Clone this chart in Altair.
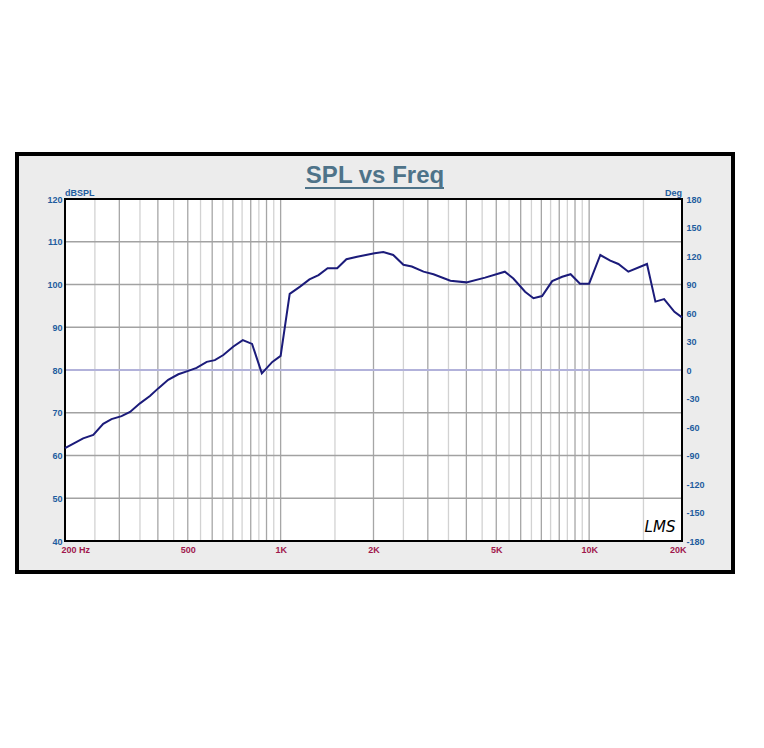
import altair as alt
import pandas as pd

# ---- data ----
freq = [200, 213, 229, 247, 266, 283, 305, 325, 350, 377, 401, 432, 466, 502, 534,
        576, 612, 652, 703, 754, 808, 869, 940, 1000, 1070, 1156, 1240, 1327, 1420,
        1525, 1634, 1770, 2016, 2152, 2317, 2500, 2662, 2905, 3130, 3550, 4000, 4600,
        5330, 5680, 6200, 6600, 7040, 7590, 8180, 8710, 9340, 10000, 10870, 11710,
        12440, 13400, 15400, 16400, 17500, 18900, 20000]
spl = [61.7, 62.8, 64.0, 64.8, 67.4, 68.5, 69.2, 70.2, 72.2, 73.9, 75.7, 77.7, 79.0,
       79.8, 80.5, 81.9, 82.3, 83.5, 85.5, 87.0, 86.1, 79.2, 81.9, 83.3, 97.8, 99.5,
       101.2, 102.2, 103.8, 103.8, 105.9, 106.5, 107.3, 107.6, 106.9, 104.6, 104.2,
       103.0, 102.4, 100.9, 100.5, 101.6, 103.0, 101.4, 98.3, 96.8, 97.3, 100.8, 101.8,
       102.4, 100.2, 100.2, 106.9, 105.6, 104.8, 103.0, 104.8, 96.0, 96.6, 93.6, 92.3]

major_vgrid = [300, 400, 500, 600, 700, 800, 900, 1000, 2000, 3000, 4000, 5000,
               6000, 7000, 8000, 9000, 10000]
minor_vgrid = [250, 350, 450, 550, 650, 750, 850, 950, 1500, 2500, 3500, 4500,
               5500, 6500, 7500, 8500, 9500, 15000]
hgrid = [50, 60, 70, 90, 100, 110]
ref_line = [80]
x_ticks = [200, 500, 1000, 2000, 5000, 10000, 20000]
y_ticks = [40, 50, 60, 70, 80, 90, 100, 110, 120]
deg_ticks = [-180, -150, -120, -90, -60, -30, 0, 30, 60, 90, 120, 150, 180]

W, H = 617, 342
FONT = "Liberation Sans"
BLUE = "#1f5c9e"
RED = "#a0174c"
TITLE_C = "#4e7389"

xs = alt.Scale(type="log", domain=[200, 20000], nice=False)


def ys():
    return alt.Scale(domain=[40, 120], nice=False, zero=False)


def xaxis():
    return alt.Axis(
        values=x_ticks, title=None, domain=False, ticks=False, grid=False,
        labelExpr="datum.value == 200 ? '200  Hz' : (datum.value >= 1000 ? (datum.value/1000) + 'K' : datum.value + '')",
        labelFlush=True, labelFlushOffset=4, labelFont=FONT, labelFontSize=9,
        labelFontWeight="bold", labelColor=RED, labelPadding=4, zindex=2)


one = pd.DataFrame({"t": [""]})

frame = alt.Chart(one).mark_rect(fill="#ececec", stroke="black", strokeWidth=4).encode(
    x=alt.value(-48), x2=alt.value(668), y=alt.value(-45), y2=alt.value(373))
plotbg = alt.Chart(one).mark_rect(fill="white").encode(
    x=alt.value(0), x2=alt.value(W), y=alt.value(0), y2=alt.value(H))
border = alt.Chart(one).mark_rect(fillOpacity=0, stroke="black", strokeWidth=2).encode(
    x=alt.value(0), x2=alt.value(W), y=alt.value(0), y2=alt.value(H))

minor_v = alt.Chart(pd.DataFrame({"f": minor_vgrid})).mark_rule(
    color="#d2d2d2", strokeWidth=1.3).encode(x=alt.X("f:Q", scale=xs, axis=xaxis()))
major_v = alt.Chart(pd.DataFrame({"f": major_vgrid})).mark_rule(
    color="#a6a6a6", strokeWidth=1.3).encode(x=alt.X("f:Q", scale=xs, axis=xaxis()))
hg = alt.Chart(pd.DataFrame({"v": hgrid})).mark_rule(
    color="#a2a2a2", strokeWidth=1.3).encode(y=alt.Y("v:Q", scale=ys(), axis=None))
ref = alt.Chart(pd.DataFrame({"v": ref_line})).mark_rule(
    color="#b2b2da", strokeWidth=2).encode(y=alt.Y("v:Q", scale=ys(), axis=None))

curve = alt.Chart(pd.DataFrame({"f": freq, "db": spl})).mark_line(
    color="#1b1b7a", strokeWidth=2, strokeJoin="miter").encode(
    x=alt.X("f:Q", scale=xs, axis=xaxis()),
    y=alt.Y("db:Q", scale=ys(), axis=alt.Axis(
        orient="left", values=y_ticks, title=None, domain=False, ticks=False, grid=False,
        labelFont=FONT, labelFontSize=9, labelFontWeight="bold", labelColor=BLUE,
        labelPadding=3, zindex=2)),
)


def txt(s, x, y, **kw):
    return alt.Chart(pd.DataFrame({"t": [s]})).mark_text(**kw).encode(
        x=alt.value(x), y=alt.value(y), text="t:N")


title = txt("SPL vs Freq", 310, -16, font=FONT, fontSize=24, fontWeight="bold",
            color=TITLE_C, align="center", baseline="alphabetic")
underline = alt.Chart(one).mark_rule(color=TITLE_C, strokeWidth=2).encode(
    x=alt.value(240), x2=alt.value(379), y=alt.value(-11))
dbspl = txt("dBSPL", 0, -3, font=FONT, fontSize=9, fontWeight="bold", color=BLUE,
            align="left", baseline="alphabetic")
deg = txt("Deg", W, -3, font=FONT, fontSize=9, fontWeight="bold", color=BLUE,
          align="right", baseline="alphabetic")
lms = txt("LMS", 595, 328, font="DejaVu Sans", fontSize=15, fontStyle="italic",
          color="black", align="center", baseline="middle")

deg_layer = alt.Chart(pd.DataFrame({"d": deg_ticks})).mark_point(opacity=0).encode(
    x=alt.value(0),
    y=alt.Y("d:Q", scale=alt.Scale(domain=[-180, 180], nice=False, zero=False),
            axis=alt.Axis(orient="right", values=deg_ticks, title=None, domain=False,
                          ticks=False, grid=False, labelFont=FONT, labelFontSize=9,
                          labelFontWeight="bold", labelColor=BLUE, labelPadding=4,
                          labelExpr="datum.value + ''", zindex=2)))

chart = alt.layer(frame, plotbg, minor_v, major_v, hg, ref, border, curve,
                  title, underline, dbspl, deg, lms, deg_layer
                  ).resolve_scale(y="independent").properties(
    width=W, height=H,
    autosize=alt.AutoSizeParams(type="none"),
    padding={"left": 57, "top": 191, "right": 70, "bottom": 150},
    background="white",
).configure_view(strokeWidth=0)

chart.save("out.html", embed_options={"renderer": "svg", "actions": False})
